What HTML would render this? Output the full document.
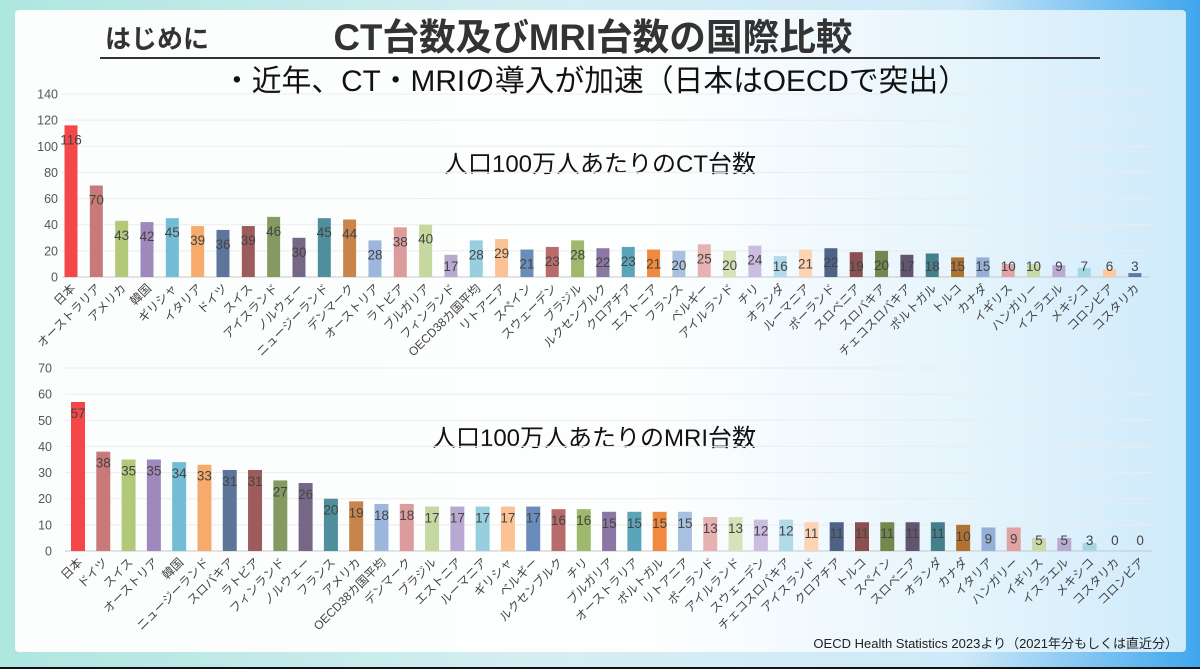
<!DOCTYPE html>
<html><head><meta charset="utf-8"><style>
html,body{margin:0;padding:0;}
body{width:1200px;height:669px;overflow:hidden;position:relative;
background:linear-gradient(90deg,#aee6e0 0%,#d6eef3 45%,#cfe9f8 80%,#3ea6ee 100%);
font-family:"Liberation Sans","Noto Sans CJK JP",sans-serif;}
.bot{position:absolute;left:0;right:0;bottom:0;height:2px;background:#111;}
.card{position:absolute;left:15px;top:10px;width:1171px;height:642px;border-radius:4px;
background:linear-gradient(90deg,rgba(255,255,255,.96) 0%,rgba(255,255,255,.95) 55%,rgba(214,238,251,.95) 100%);}
svg{position:absolute;left:0;top:0;}
</style></head><body>
<div class="card"></div>
<div class="bot"></div>
<svg id="s" width="1200" height="669" xmlns="http://www.w3.org/2000/svg" font-family="Liberation Sans, Noto Sans CJK JP, sans-serif">
<text x="105" y="48" font-size="26" font-weight="bold" fill="#333">はじめに</text>
<text x="593" y="50" font-size="37" font-weight="bold" fill="#333" text-anchor="middle" textLength="519" lengthAdjust="spacingAndGlyphs">CT台数及びMRI台数の国際比較</text>
<rect x="100" y="57" width="1000" height="2" fill="#333"/>
<text x="595" y="91" font-size="30" fill="#111" text-anchor="middle" textLength="746" lengthAdjust="spacingAndGlyphs">・近年、CT・MRIの導入が加速（日本はOECDで突出）</text>
<text x="600" y="172" font-size="24" fill="#111" text-anchor="middle">人口100万人あたりのCT台数</text>
<text x="594" y="446" font-size="24" fill="#111" text-anchor="middle">人口100万人あたりのMRI台数</text>
<text x="1178" y="648" font-size="13" fill="#222" text-anchor="end">OECD Health Statistics 2023より（2021年分もしくは直近分）</text>
<g id="g"></g>
</svg>
<script>
var pal=["#f5474a","#c97a78","#b3c97a","#9f88bc","#72bdd3","#f6aa6c","#5d7598","#9c5c5c","#849a62","#776787","#4f8e9d","#c8844a","#9db6db","#dc9c9c","#c5d8a0","#b9a9d2","#98cfe0","#fbc294","#6a8cba","#b86b6b","#9fb96c","#8b77a3","#5aa5b9","#f08a3f","#a9c1e0","#e6b1b1","#d6e3b8","#cabde0","#b1dbe8","#fcd3b3","#4e6287","#8a4f4f","#73884f","#62556f","#44808c","#b07232","#95afd6","#e0a2a2","#c8daa5","#b8aad1","#a4d6e4","#fcc89e","#5c7aa8"];
var ctN="日本,オーストラリア,アメリカ,韓国,ギリシャ,イタリア,ドイツ,スイス,アイスランド,ノルウェー,ニュージーランド,デンマーク,オーストリア,ラトビア,ブルガリア,フィンランド,OECD38カ国平均,リトアニア,スペイン,スウェーデン,ブラジル,ルクセンブルク,クロアチア,エストニア,フランス,ベルギー,アイルランド,チリ,オランダ,ルーマニア,ポーランド,スロベニア,スロバキア,チェコスロバキア,ポルトガル,トルコ,カナダ,イギリス,ハンガリー,イスラエル,メキシコ,コロンビア,コスタリカ".split(",");
var ctV=[116,70,43,42,45,39,36,39,46,30,45,44,28,38,40,17,28,29,21,23,28,22,23,21,20,25,20,24,16,21,22,19,20,17,18,15,15,10,10,9,7,6,3];
var mrN="日本,ドイツ,スイス,オーストリア,韓国,ニュージーランド,スロバキア,ラトビア,フィンランド,ノルウェー,フランス,アメリカ,OECD38カ国平均,デンマーク,ブラジル,エストニア,ルーマニア,ギリシャ,ベルギー,ルクセンブルク,チリ,ブルガリア,オーストラリア,ポルトガル,リトアニア,ポーランド,アイルランド,スウェーデン,チェコスロバキア,アイスランド,クロアチア,トルコ,スペイン,スロベニア,オランダ,カナダ,イタリア,ハンガリー,イギリス,イスラエル,メキシコ,コスタリカ,コロンビア".split(",");
var mrV=[57,38,35,35,34,33,31,31,27,26,20,19,18,18,17,17,17,17,17,16,16,15,15,15,15,13,13,12,12,11,11,11,11,11,11,10,9,9,5,5,3,0,0];
var h="";
function chart(N,V,y0,ymax,step,x0,dx,lx,gx1,gx2,bw,lblMax,off){
 var sc=183/ymax;
 for(var t=0;t<=ymax;t+=step){var y=y0-t*sc;
  h+='<line x1="'+gx1+'" x2="'+gx2+'" y1="'+y+'" y2="'+y+'" stroke="'+(t==0?'#c8c8c8':'#ececec')+'" stroke-width="1"/>';
  h+='<text x="'+lx+'" y="'+(y+4.5)+'" font-size="12.5" fill="#555" text-anchor="end">'+t+'</text>';}
 for(var i=0;i<N.length;i++){var cx=x0+i*dx,v=V[i],top=y0-v*sc;
  h+='<rect x="'+(cx-bw/2)+'" y="'+top+'" width="'+bw+'" height="'+(v*sc)+'" fill="'+pal[i]+'"/>';
  var ly=Math.min(top+off,lblMax);
  h+='<text x="'+cx+'" y="'+ly+'" font-size="13.5" fill="#444" text-anchor="middle">'+v+'</text>';
  h+='<text transform="translate('+(cx+5)+','+(y0+12)+') rotate(-45)" font-size="12" fill="#444" text-anchor="end">'+N[i]+'</text>';}
}
chart(ctN,ctV,277,140,20,71,25.33,58,62,1150,13,271,19);
chart(mrN,mrV,551,70,10,78,25.29,52,65,1152,14,545,16);
document.getElementById("g").innerHTML=h;
</script>
</body></html>
